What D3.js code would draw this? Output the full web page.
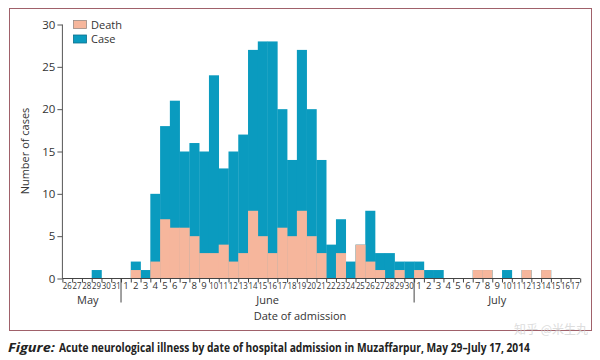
<!DOCTYPE html>
<html>
<head>
<meta charset="utf-8">
<script src="https://cdn.jsdelivr.net/npm/d3@7"></script>
<style>
body{margin:0;background:#fff;}
svg{display:block;}
</style>
</head>
<body>
<svg id="chart" width="600" height="360"></svg>
<script>
const dayLabels = [
  "26","27","28","29","30","31",
  "1","2","3","4","5","6","7","8","9","10","11","12","13","14","15","16","17","18","19","20","21","22","23","24","25","26","27","28","29","30",
  "1","2","3","4","5","6","7","8","9","10","11","12","13","14","15","16","17"
];
const months = [
  {name:"May", start:0, end:6},
  {name:"June", start:6, end:36},
  {name:"July", start:36, end:53}
];
const cases = [
  0,0,0,1,0,0,
  0,2,1,10,18,21,15,16,15,24,13,15,17,27,28,28,20,14,27,20,14,4,7,2,4,8,3,3,2,2,
  2,1,1,0,0,0,1,1,0,1,0,1,0,1,0,0,0
];
const deaths = [
  0,0,0,0,0,0,
  0,1,0,2,7,6,6,5,3,3,4,2,3,8,5,3,6,5,8,5,3,0,3,0,4,2,1,0,1,0,
  1,0,0,0,0,0,1,1,0,0,0,1,0,1,0,0,0
];
const yTicks = [0,5,10,15,20,25,30];
const seriesNames = ["Death","Case"];

const caseColor = "#0a9bbf";
const deathColor = "#f6b69c";
const FONT = "'Open Sans',sans-serif";
const svg = d3.select("#chart");

// frame
svg.append("rect").attr("x",9.5).attr("y",8.5).attr("width",582).attr("height",322)
  .attr("fill","none").attr("stroke","#a0616a").attr("stroke-width",1);

const x0 = 62.4, x1 = 580.2;
const idx = d3.range(dayLabels.length);
const x = d3.scaleBand().domain(idx).range([x0,x1]).padding(0);
const xLin = d3.scaleLinear().domain([0,dayLabels.length]).range([x0,x1]);
const y = d3.scaleLinear().domain([0,30]).range([278.5,24.5]);

// bars
const g = svg.append("g");
g.selectAll("rect.case").data(idx.filter(i=>cases[i]>0)).join("rect")
  .attr("x",i=>x(i)).attr("width",x.bandwidth()+0.3)
  .attr("y",i=>y(cases[i])).attr("height",i=>y(0)-y(cases[i]))
  .attr("fill",caseColor);
g.selectAll("rect.death").data(idx.filter(i=>deaths[i]>0)).join("rect")
  .attr("x",i=>x(i)).attr("width",x.bandwidth()+0.3)
  .attr("y",i=>y(deaths[i])).attr("height",i=>y(0)-y(deaths[i]))
  .attr("fill",deathColor);

// y axis
const yAxis = svg.append("g").attr("transform",`translate(${x0},0)`)
  .call(d3.axisLeft(y).tickValues(yTicks).tickSize(5).tickPadding(2));
yAxis.select(".domain").attr("stroke","#555").attr("d",`M0,${y(30)}V${y(0)}`);
yAxis.selectAll(".tick line").attr("stroke","#555");
yAxis.selectAll(".tick text").attr("fill","#333").style("font-family",FONT).style("font-size","11.5px");

svg.append("text").attr("transform","translate(29,151) rotate(-90)")
  .attr("text-anchor","middle").attr("fill","#333")
  .style("font-family",FONT).style("font-size","11px")
  .text("Number of cases");

// x axis boundary ticks
const xAxisTicks = svg.append("g").attr("transform",`translate(0,${y(0)})`)
  .call(d3.axisBottom(xLin).tickValues(d3.range(0,dayLabels.length+1)).tickSize(4).tickFormat(""));
xAxisTicks.select(".domain").attr("stroke","#444").attr("d",`M${x0},0H${x1}`);
xAxisTicks.selectAll(".tick line").attr("stroke","#444");

// x day labels
const xAxisLabels = svg.append("g").attr("transform",`translate(0,${y(0)})`)
  .call(d3.axisBottom(x).tickSize(0).tickPadding(4).tickFormat(i=>dayLabels[i]));
xAxisLabels.select(".domain").remove();
xAxisLabels.selectAll(".tick text").attr("fill","#333")
  .style("font-family",FONT).style("font-size","9.5px")
  .each(function(i){ if (dayLabels[i].length>1) d3.select(this).attr("textLength",9).attr("lengthAdjust","spacingAndGlyphs"); });

// month separators
svg.selectAll("line.sep").data(months.slice(1)).join("line")
  .attr("x1",m=>xLin(m.start)).attr("x2",m=>xLin(m.start))
  .attr("y1",y(0)).attr("y2",y(0)+24).attr("stroke","#444");
svg.selectAll("text.month").data(months).join("text")
  .attr("x",(m,i)=> i===0 ? xLin(m.start+2.6) : xLin((m.start+m.end)/2))
  .attr("y",304).attr("text-anchor","middle").attr("fill","#333")
  .style("font-family",FONT).style("font-size","11px")
  .text(m=>m.name);

svg.append("text").attr("x",300).attr("y",320).attr("text-anchor","middle").attr("fill","#333")
  .style("font-family",FONT).style("font-size","11px")
  .text("Date of admission");

// legend
const leg = svg.append("g");
const legColors = [deathColor, caseColor];
const legStroke = ["#9a8a84","#0b6f8c"];
seriesNames.forEach((n,i)=>{
  leg.append("rect").attr("x",73.5).attr("y",20.5+i*14.5).attr("width",13).attr("height",8)
    .attr("fill",legColors[i]).attr("stroke",legStroke[i]).attr("stroke-width",0.8);
  leg.append("text").attr("x",91).attr("y",28.5+i*14.5).attr("fill","#333")
    .style("font-family",FONT).style("font-size","11px")
    .text(n);
});

// caption (horizontally condensed via transform)
function condensed(xPos, yPos, width, txt, italic){
  const t = svg.append("text").attr("x",0).attr("y",0).attr("fill","#222")
    .style("font-family",FONT).style("font-size","13px")
    .style("font-weight","bold").style("font-style",italic?"italic":"normal")
    .text(txt);
  const w = t.node().getComputedTextLength();
  t.attr("transform",`translate(${xPos},${yPos}) scale(${width/w},1)`);
}
condensed(8,352,47,"Figure:",true);
condensed(59,352,471,"Acute neurological illness by date of hospital admission in Muzaffarpur, May 29\u2013July 17, 2014",false);

// watermark
svg.append("text").attr("x",588).attr("y",334).attr("text-anchor","end")
  .attr("fill","#cfcfcf").attr("opacity",0.7)
  .style("font-family","'Noto Sans CJK SC',sans-serif").style("font-size","12px")
  .text("知乎 @米生丸");
</script>
</body>
</html>
